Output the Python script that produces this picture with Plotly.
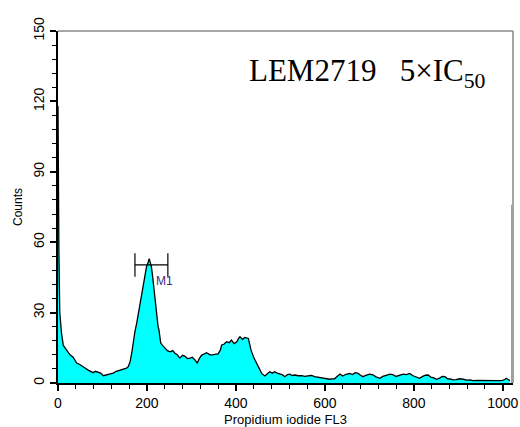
import plotly.graph_objects as go

channel = [0, 1, 2, 4, 8, 12, 19, 27, 34, 42, 48, 53, 60, 68, 75, 79, 84, 90, 96, 102, 108, 113,
           120, 124, 131, 139, 147, 154, 158, 162, 166, 169, 173, 177, 181, 184, 188, 192, 196,
           199, 202, 205, 208, 210, 213, 216, 219, 222, 225, 227, 231, 235, 240, 246, 252, 258,
           263, 268, 274, 280, 285, 291, 297, 302, 308, 313, 318, 323, 328, 334, 340, 345, 352,
           360, 365, 368, 373, 379, 385, 390, 396, 402, 406, 409, 415, 420, 428, 434, 441, 448,
           453, 458, 465, 470, 476, 482, 487, 493, 499, 505, 510, 516, 521, 527, 533, 540, 548,
           555, 562, 570, 577, 585, 592, 600, 605, 611, 617, 622, 628, 634, 640, 646, 656, 662,
           668, 675, 680, 686, 692, 701, 708, 715, 724, 730, 738, 746, 752, 760, 769, 776, 783,
           791, 797, 804, 813, 820, 826, 832, 838, 845, 851, 858, 864, 870, 876, 882, 888, 895,
           903, 911, 920, 927, 933, 945, 955, 963, 975, 985, 993, 1000, 1005, 1008, 1012, 1016]
counts = [118, 56, 56, 30, 21, 16, 14, 12, 11, 8.5, 8, 7.2, 6.5, 5.5, 4.6, 4.4, 5, 4.7, 4.2, 3.1,
          3.4, 3.4, 3.8, 4.2, 5, 5.5, 6, 6.3, 7, 9, 13, 18, 22, 25.5, 30, 34, 38, 42.6, 46, 49.6,
          51, 53, 51, 49.6, 45, 39.6, 33, 28, 24, 22.6, 17, 16, 15, 13.8, 13.3, 13.8, 12.7, 12,
          10.6, 11.8, 11.5, 10.4, 10.6, 11, 9.8, 8.5, 10.5, 11.9, 12.3, 12.9, 12.2, 11.9, 12.2,
          12.4, 14, 16.2, 16.5, 17.6, 17.2, 18.3, 16.8, 17.6, 19, 19.7, 18.6, 19.4, 19, 14, 10.5,
          7.7, 5.5, 4.1, 3, 4, 4.8, 4.2, 4.8, 4.2, 3.8, 3.5, 2.7, 3.6, 3.8, 3.2, 3.4, 3.1, 3.1,
          2.8, 3, 3.2, 2.7, 2.5, 2.3, 2, 1.9, 1.6, 1.8, 1.8, 2.9, 3.8, 3, 3.6, 4.1, 3.6, 4.4, 4.1,
          3.3, 2.7, 3.3, 3.8, 3.5, 2.6, 2, 2.8, 3.3, 3.8, 3.6, 2.8, 3.4, 3.8, 3.6, 4.1, 3.2, 2.8,
          2, 2.8, 3.3, 3.4, 2.5, 2.2, 1.6, 2.1, 2.8, 2.7, 1.8, 1.7, 1.3, 1.4, 1.8, 1.6, 1.2, 1.3,
          1, 1.1, 1, 1, 1, 1, 1, 1.1, 1.6, 2, 1.5, 1]

end_channel = [1020, 1020]
end_counts = [0, 76]

marker_range = [173, 247]
marker_level = 50.3
marker_label = "M1"

x_ticks = [0, 200, 400, 600, 800, 1000]
y_ticks = [0, 30, 60, 90, 120, 150]

fig = go.Figure()
fig.add_trace(go.Scatter(x=channel, y=counts, mode="lines", fill="tozeroy",
                         fillcolor="#00FFFF", line=dict(color="black", width=1.3),
                         showlegend=False, hoverinfo="skip"))
fig.add_trace(go.Scatter(x=end_channel, y=end_counts, mode="lines",
                         line=dict(color="#999999", width=1.2), showlegend=False))
# M1 gate marker
fig.add_trace(go.Scatter(x=marker_range, y=[marker_level, marker_level], mode="lines",
                         line=dict(color="black", width=1.2), showlegend=False))
for xc in marker_range:
    fig.add_trace(go.Scatter(x=[xc, xc], y=[marker_level - 5, marker_level + 5], mode="lines",
                             line=dict(color="black", width=1.2), showlegend=False))

fig.add_annotation(x=marker_range[0] + 0.58 * (marker_range[1] - marker_range[0]), y=marker_level - 3,
                   text=marker_label, showarrow=False, xanchor="left", yanchor="top",
                   font=dict(family="Liberation Sans, Arial", size=12, color="#3a2a80"))

fig.add_annotation(x=0.415, y=0.882, xref="paper", yref="paper",
                   text="LEM2719\u00a0\u00a0 5×IC<sub>50</sub>", showarrow=False,
                   xanchor="left", yanchor="middle",
                   font=dict(family="Liberation Serif, Times New Roman", size=31, color="black"))

fig.update_layout(
    width=520, height=427,
    margin=dict(l=58, r=7, t=31, b=44),
    paper_bgcolor="white", plot_bgcolor="white",
    font=dict(family="Liberation Sans, Arial", size=14, color="black"),
    shapes=[
        dict(type="line", xref="paper", yref="paper", x0=0, x1=1, y0=1, y1=1,
             line=dict(color="#888888", width=1.5)),
        dict(type="line", xref="paper", yref="paper", x0=1, x1=1, y0=0, y1=1,
             line=dict(color="#888888", width=1.5)),
    ],
)
fig.update_xaxes(range=[0, 1023], tickvals=x_ticks, ticks="outside", ticklen=6,
                 tickcolor="black", tickwidth=1.5, showline=True, linecolor="black",
                 linewidth=2, showgrid=False, zeroline=False,
                 minor=dict(dtick=40, tick0=0, ticks="outside", ticklen=4, tickcolor="black",
                            tickwidth=1.2, showgrid=False),
                 title=dict(text="Propidium iodide FL3", font=dict(size=13), standoff=7),
                 automargin=False)
fig.update_yaxes(range=[0, 150], tickvals=y_ticks, ticks="outside", ticklen=6,
                 tickcolor="black", tickwidth=1.5, showline=True, linecolor="black",
                 linewidth=2, showgrid=False, zeroline=False, tickangle=-90,
                 minor=dict(dtick=6, tick0=0, ticks="outside", ticklen=4, tickcolor="black",
                            tickwidth=1.2, showgrid=False),
                 title=dict(text="Counts", font=dict(size=12), standoff=6),
                 automargin=False)

fig.write_html("out.html")
